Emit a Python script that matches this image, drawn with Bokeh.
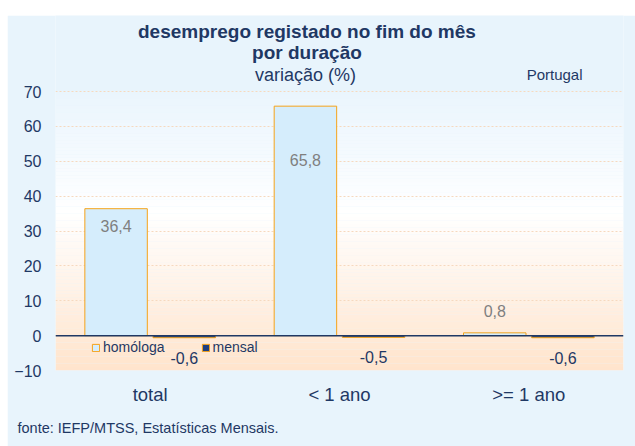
from bokeh.plotting import figure
from bokeh.models import (FactorRange, ColumnDataSource, Label, LabelSet, Span,
                          FixedTicker, Legend, LegendItem, Title, Spacer)
from bokeh.layouts import column, row
from bokeh.core.properties import value
from bokeh.transform import dodge
from bokeh.embed import file_html
from bokeh.resources import INLINE

# ---- data ----
categories = ["total", "< 1 ano", ">= 1 ano"]
homologa = [36.4, 65.8, 0.8]
mensal = [-0.6, -0.5, -0.6]
y_ticks = [-10, 0, 10, 20, 30, 40, 50, 60, 70]

title1 = "desemprego registado no fim do mês"
title2 = "por duração"
subtitle = "variação (%)"
region = "Portugal"
source_note = "fonte: IEFP/MTSS, Estatísticas Mensais."

# ---- style ----
NAVY = "#1F3864"
OUTER = "#E8F4FC"
ORANGE = "#F5A31A"
FONT = "Liberation Sans"

def fmt(v):
    return ("%.1f" % v).replace(".", ",")

p = figure(x_range=FactorRange(*categories), y_range=(-10, 91.8),
           width=628, height=431, output_backend="svg", toolbar_location=None,
           min_border_left=48, min_border_right=12, min_border_top=0,
           min_border_bottom=76)
p.border_fill_color = OUTER
p.background_fill_color = OUTER
p.outline_line_color = None

# gradient background of plot area (decorative bands)
def hex2rgb(h):
    h = h.lstrip("#")
    return tuple(int(h[i:i + 2], 16) for i in (0, 2, 4))

stops = [(-10, "#FFE4CC"), (35, "#FFFFFF"), (70, "#EAF5FD")]
nb = 80
bl, bt, bc = [], [], []
for i in range(nb):
    y0 = -10 + 80 * i / nb
    y1 = -10 + 80 * (i + 1) / nb
    ym = (y0 + y1) / 2
    for (a, ca), (b, cb) in zip(stops[:-1], stops[1:]):
        if a <= ym <= b:
            t = (ym - a) / (b - a)
            r1, g1, b1_ = hex2rgb(ca)
            r2, g2, b2 = hex2rgb(cb)
            col = "#%02X%02X%02X" % (round(r1 + (r2 - r1) * t),
                                     round(g1 + (g2 - g1) * t),
                                     round(b1_ + (b2 - b1_) * t))
            break
    bl.append(y0)
    bt.append(min(y1 + 0.02, 70))
    bc.append(col)
bands = p.quad(left=0, right=3, bottom=bl, top=bt, fill_color=bc, line_color=None)
bands.level = "image"

src = ColumnDataSource(dict(
    cat=categories, homologa=homologa, mensal=mensal,
    hlab=[fmt(v) for v in homologa], mlab=[fmt(v) for v in mensal],
    hoff=[-17, -54, 22], moff=[-20, -20, -20],
))

r_h = p.vbar(x=dodge("cat", -0.18, range=p.x_range), top="homologa", bottom=0,
             width=0.33, source=src, fill_color="#D5EDFC", line_color=ORANGE,
             line_width=1)
r_m = p.vbar(x=dodge("cat", 0.18, range=p.x_range), top="mensal", bottom=0,
             width=0.33, source=src, fill_color="#1F3F7F", line_color=ORANGE,
             line_width=1)

p.add_layout(Span(location=0, dimension="width", line_color=NAVY, line_width=1.5))

p.add_layout(LabelSet(x=dodge("cat", -0.18, range=p.x_range), y="homologa",
                      text="hlab", y_offset="hoff", source=src,
                      text_align="center", text_baseline="middle",
                      text_color="#7F7F7F", text_font=value(FONT),
                      text_font_size="16px"))
p.add_layout(LabelSet(x=dodge("cat", 0.18, range=p.x_range), y="mensal",
                      text="mlab", y_offset="moff", source=src,
                      text_align="center", text_baseline="middle",
                      text_color=NAVY, text_font=value(FONT),
                      text_font_size="16px"))

# axes
p.yaxis.ticker = FixedTicker(ticks=y_ticks)
p.yaxis.axis_line_color = None
p.yaxis.major_tick_line_color = None
p.yaxis.minor_tick_line_color = None
p.yaxis.major_label_text_color = NAVY
p.yaxis.major_label_text_font = FONT
p.yaxis.major_label_text_font_size = "16px"
p.yaxis.major_label_standoff = 8

p.xaxis.axis_line_color = None
p.xaxis.major_tick_line_color = None
p.xaxis.minor_tick_line_color = None
p.xaxis.major_label_text_color = NAVY
p.xaxis.major_label_text_font = FONT
p.xaxis.major_label_text_font_size = "18.5px"
p.xaxis.major_label_standoff = 7

p.xgrid.grid_line_color = None
p.ygrid.ticker = FixedTicker(ticks=y_ticks)
p.ygrid.grid_line_color = "#F6D9BE"
p.ygrid.grid_line_dash = "2 2"

# legend
legend = Legend(items=[LegendItem(label="homóloga", renderers=[r_h]),
                       LegendItem(label="mensal", renderers=[r_m])],
                orientation="horizontal", location=(36, 15),
                background_fill_alpha=0, border_line_color=None,
                padding=0, margin=0, spacing=36, label_standoff=3,
                glyph_width=9, glyph_height=9,
                label_text_font=FONT, label_text_font_size="14px",
                label_text_color=NAVY)
p.add_layout(legend, "center")

# titles and notes
def lab(text, x, y, size, bold=False, align="center", color=NAVY):
    p.add_layout(Label(x=x, y=y, text=text, text_align=align,
                       text_baseline="middle", text_font=FONT,
                       text_font_size=size, text_color=color,
                       text_font_style="bold" if bold else "normal"))

lab(title1, 1.328, 87.2, "19px", bold=True)
lab(title2, 1.328, 81.3, "19px", bold=True)
lab(subtitle, 1.32, 74.7, "18px")
lab(region, 2.636, 74.9, "15px")

note = Title(text=source_note, align="left", offset=-38,
             text_font=FONT, text_font_size="14.5px", text_font_style="normal",
             text_color=NAVY, standoff=20)
p.add_layout(note, "below")

layout = column(Spacer(height=15), row(Spacer(width=7), p))
open("out.html", "w").write(file_html(layout, INLINE))
